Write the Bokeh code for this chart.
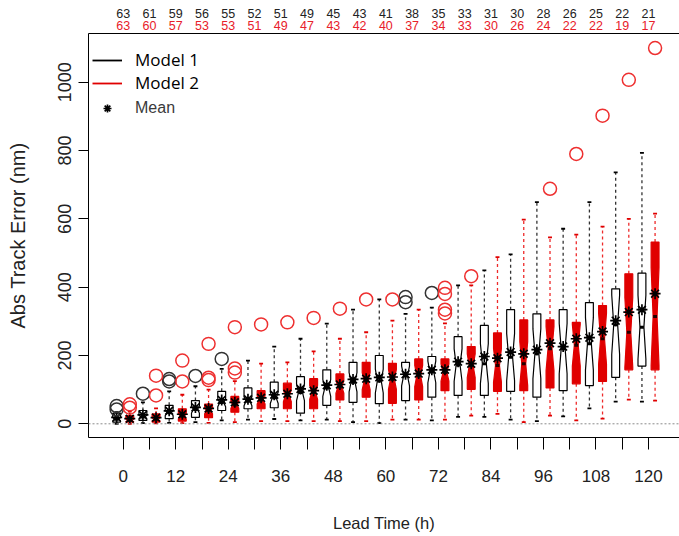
import numpy as np
from bokeh.plotting import figure
from bokeh.models import (Range1d, FixedTicker, LinearAxis, Span, Legend, LegendItem)
from bokeh.embed import file_html
from bokeh.resources import INLINE

# ---------------- data ----------------
lead = [0, 6, 12, 18, 24, 30, 36, 42, 48, 54, 60, 66, 72, 78, 84, 90, 96, 102, 108, 114, 120]
n_m1 = [63, 61, 59, 56, 55, 52, 51, 49, 45, 43, 41, 38, 35, 33, 31, 30, 28, 26, 25, 22, 21]
n_m2 = [63, 60, 57, 53, 53, 51, 49, 47, 43, 42, 40, 37, 34, 33, 30, 26, 24, 22, 22, 19, 17]

m1_low = [0, 2, 3, 5, 10, 12, 14, 10, 12, 5, 2, 12, 10, 20, 20, 12, 8, 22, 45, 65, 65]
m1_q1 = [5, 10, 15, 19, 39, 44, 47, 31, 54, 63, 59, 68, 78, 83, 83, 95, 78, 97, 112, 136, 169]
m1_med = [13, 20, 32, 42, 62, 66, 76, 92, 105, 122, 125, 140, 152, 172, 176, 195, 205, 220, 234, 290, 283]
m1_q3 = [31, 39, 54, 68, 95, 105, 122, 138, 158, 180, 200, 180, 197, 255, 288, 334, 322, 334, 355, 395, 441]
m1_high = [34, 63, 95, 110, 161, 185, 226, 249, 293, 334, 364, 322, 340, 405, 449, 496, 649, 571, 649, 736, 793]
m1_mean = [19, 26, 38, 48, 70, 72, 85, 102, 113, 130, 136, 145, 158, 182, 197, 210, 217, 226, 252, 302, 334]

m2_low = [0, 1, 2, 3, 5, 8, 8, 8, 8, 8, 12, 12, 12, 24, 29, 5, 24, 10, 15, 71, 68]
m2_q1 = [5, 5, 8, 18, 34, 44, 44, 44, 70, 78, 60, 70, 97, 101, 95, 97, 105, 117, 124, 158, 158]
m2_med = [10, 13, 22, 38, 55, 70, 82, 92, 108, 125, 130, 140, 150, 170, 171, 176, 220, 230, 249, 268, 314]
m2_q3 = [24, 29, 44, 58, 80, 97, 119, 132, 146, 180, 177, 190, 190, 226, 266, 304, 304, 297, 346, 439, 532]
m2_high = [36, 45, 85, 100, 125, 176, 180, 212, 249, 268, 302, 334, 294, 405, 488, 598, 546, 554, 577, 600, 615]
m2_mean = [15, 18, 28, 45, 63, 76, 88, 97, 115, 132, 137, 147, 158, 176, 192, 205, 236, 249, 270, 327, 381]

m1_out_lead = [0, 0, 6, 12, 12, 18, 24, 66, 66, 72]
m1_out_val = [52, 42, 88, 124, 131, 140, 190, 371, 356, 383]
m2_out_lead = [0, 0, 6, 6, 12, 12, 18, 18, 18, 24, 24, 24, 30, 36, 42, 48, 54, 60,
               72, 72, 72, 72, 78, 96, 102, 108, 114, 120]
m2_out_val = [57, 47, 141, 83, 185, 124, 234, 135, 128, 283, 162, 150, 291, 297, 310, 337, 364, 364,
              398, 380, 334, 323, 432, 688, 790, 902, 1007, 1100]

tick_hours = [0, 6, 12, 18, 24, 30, 36, 42, 48, 54, 60, 66, 72, 78, 84, 90, 96, 102, 108, 114, 120]
y_ticks = [0, 200, 400, 600, 800, 1000]

# ---------------- styling constants ----------------
OFF = 1.5      # horizontal offset of each model's box from the lead time
BW = 1.8       # box width (hours)
RED = "#e00000"
RED_L = "#ee2a2a"
FONT = "Liberation Sans"

X0, X1 = -7.93, 127.08
Y0, Y1 = -40.1, 1142.6

p = figure(width=679, height=536, output_backend="svg", toolbar_location=None,
           x_range=Range1d(X0, X1), y_range=Range1d(Y0, Y1),
           min_border_left=88, min_border_right=0, min_border_top=33, min_border_bottom=99)
p.outline_line_color = None
p.grid.visible = False
p.background_fill_color = "white"

# bottom axis
xa = p.xaxis[0]
xa.ticker = FixedTicker(ticks=tick_hours)
xa.major_label_overrides = {t: "" for t in tick_hours if t % 12}
xa.major_tick_out = 12
xa.major_tick_in = 0
xa.minor_tick_out = 0
xa.minor_tick_in = 0
xa.major_label_standoff = 20
xa.major_label_text_font = FONT
xa.major_label_text_font_size = "17px"
xa.major_label_text_color = "#222222"
xa.axis_line_color = "black"
xa.axis_label = "Lead Time (h)"
xa.axis_label_text_font = FONT
xa.axis_label_text_font_size = "16.5px"
xa.axis_label_text_font_style = "normal"
xa.axis_label_text_color = "#222222"
xa.axis_label_standoff = 29

# left axis
ya = p.yaxis[0]
ya.ticker = FixedTicker(ticks=y_ticks)
ya.major_tick_out = 10
ya.major_tick_in = 0
ya.minor_tick_out = 0
ya.minor_tick_in = 0
ya.major_label_orientation = "vertical"
ya.major_label_standoff = 7
ya.major_label_text_font = FONT
ya.major_label_text_font_size = "18px"
ya.major_label_text_color = "#222222"
ya.axis_label = "Abs Track Error (nm)"
ya.axis_label_text_font = FONT
ya.axis_label_text_font_size = "20px"
ya.axis_label_text_font_style = "normal"
ya.axis_label_text_color = "#222222"
ya.axis_label_standoff = 27
ya.axis_line_color = "black"

# top: sample counts as two label rows (red row next to the frame, black above)
red_ax = LinearAxis(ticker=FixedTicker(ticks=lead),
                    major_label_overrides={t: str(v) for t, v in zip(lead, n_m2)},
                    major_tick_out=0, major_tick_in=0, minor_tick_out=0, minor_tick_in=0,
                    major_label_standoff=4, major_label_text_font=FONT,
                    major_label_text_font_size="12.5px", major_label_text_color="#e8202a",
                    axis_line_color="black")
blk_ax = LinearAxis(ticker=FixedTicker(ticks=lead),
                    major_label_overrides={t: str(v) for t, v in zip(lead, n_m1)},
                    major_tick_out=0, major_tick_in=0, minor_tick_out=0, minor_tick_in=0,
                    major_label_standoff=0, major_label_text_font=FONT,
                    major_label_text_font_size="12.5px", major_label_text_color="#222222",
                    axis_line_color=None)
p.add_layout(red_ax, "above")
p.add_layout(blk_ax, "above")

# zero reference line
p.add_layout(Span(location=0, dimension="width", line_color="#8a8a8a",
                  line_dash="2 2", line_width=1))


def build(xc, low, q1, med, q3, high, n):
    bx, by, mx0, mx1 = [], [], [], []
    wx, wy0, wy1 = [], [], []
    sx0, sx1, sy = [], [], []
    for x, lo_w, a, m, b, hi_w, k in zip(xc, low, q1, med, q3, high, n):
        nt = 1.58 * (b - a) / np.sqrt(k)
        lo, hi = m - nt, m + nt
        xl, xr, wn = x - BW / 2, x + BW / 2, BW / 4
        bx.append([xl, xr, xr, xr - wn, xr, xr, xl, xl, xl + wn, xl])
        by.append([a, a, lo, m, hi, b, b, hi, m, lo])
        mx0.append(x - wn)
        mx1.append(x + wn)
        wx += [x, x]
        wy0 += [b, a]
        wy1 += [hi_w, lo_w]
        sx0 += [x - BW / 4, x - BW / 4]
        sx1 += [x + BW / 4, x + BW / 4]
        sy += [hi_w, lo_w]
    return dict(bx=bx, by=by, mx0=mx0, mx1=mx1, wx=wx, wy0=wy0, wy1=wy1,
                sx0=sx0, sx1=sx1, sy=sy)


x1 = [t - OFF for t in lead]
x2 = [t + OFF for t in lead]
g1 = build(x1, m1_low, m1_q1, m1_med, m1_q3, m1_high, n_m1)
g2 = build(x2, m2_low, m2_q1, m2_med, m2_q3, m2_high, n_m2)

staple_renderers = []
for g, wc, bc in [(g1, "#333333", "black"), (g2, RED_L, RED)]:
    p.segment(x0=g["wx"], y0=g["wy0"], x1=g["wx"], y1=g["wy1"], line_color=wc,
              line_dash="3 3", line_width=1.3)
    sr = p.segment(x0=g["sx0"], y0=g["sy"], x1=g["sx1"], y1=g["sy"], line_color=bc,
                   line_width=1.8)
    staple_renderers.append(sr)

for g, bc, fc in [(g1, "black", "white"), (g2, RED, RED)]:
    p.patches(xs=g["bx"], ys=g["by"], fill_color=fc, line_color=bc, line_width=1.2)

p.segment(x0=g1["mx0"], y0=m1_med, x1=g1["mx1"], y1=m1_med, line_color="black", line_width=3)
p.segment(x0=g2["mx0"], y0=m2_med, x1=g2["mx1"], y1=m2_med, line_color="#200000", line_width=3)

mean_r = p.scatter(x=x1 + x2, y=m1_mean + m2_mean, marker="asterisk", size=11,
                   line_color="black", line_width=1.7)

p.scatter(x=[t - OFF for t in m1_out_lead], y=m1_out_val, marker="circle", size=13,
          fill_color=None, line_color="#333333", line_width=1.5)
p.scatter(x=[t + OFF for t in m2_out_lead], y=m2_out_val, marker="circle", size=13,
          fill_color=None, line_color="#ee3030", line_width=1.5)

# legends
legA = Legend(items=[LegendItem(label="Model 1", renderers=[staple_renderers[0]]),
                     LegendItem(label="Model 2", renderers=[staple_renderers[1]])],
              location=(4, 343), orientation="vertical", padding=4, margin=0, spacing=0,
              glyph_width=30, glyph_height=20, label_height=20, label_standoff=13,
              label_text_font="Open Sans", label_text_font_size="17px",
              label_text_color="black", border_line_color=None, background_fill_alpha=0)
legB = Legend(items=[LegendItem(label="Mean", renderers=[mean_r])],
              location=(4, 319), orientation="vertical", padding=4, margin=0, spacing=0,
              glyph_width=30, glyph_height=20, label_height=20, label_standoff=13,
              label_text_font=FONT, label_text_font_size="16px",
              label_text_color="#3a3a3a", border_line_color=None, background_fill_alpha=0)
p.add_layout(legA)
p.add_layout(legB)

open("out.html", "w").write(file_html(p, INLINE))
